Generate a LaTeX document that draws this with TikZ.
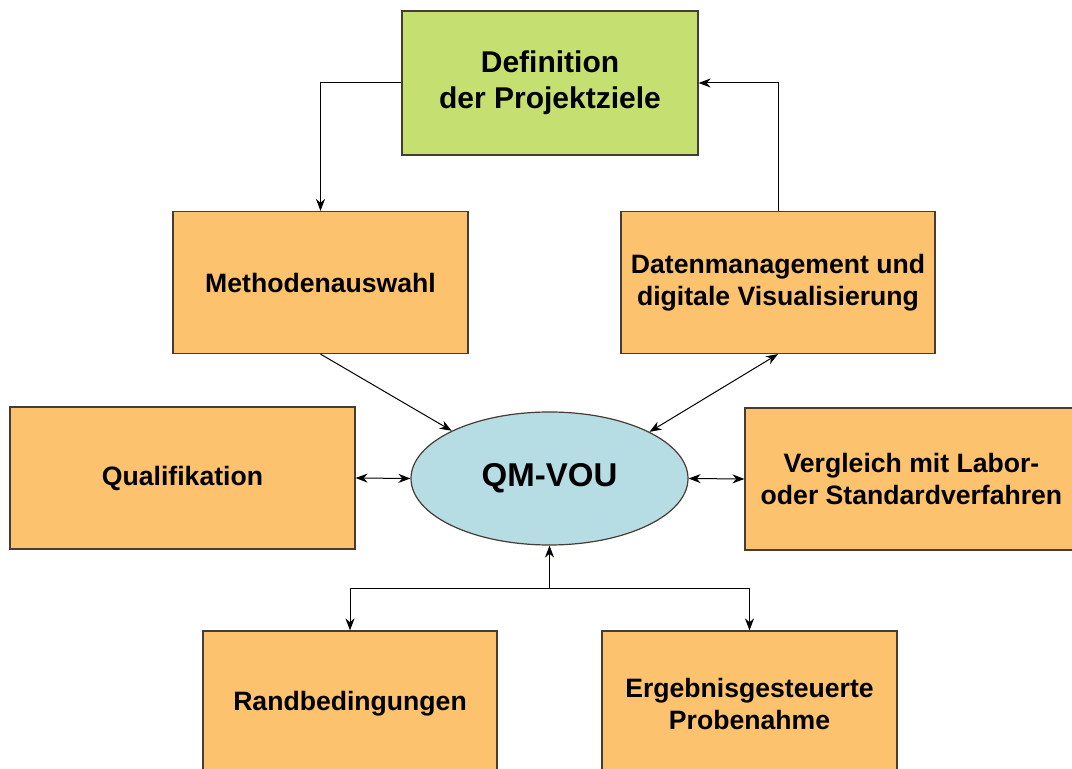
\documentclass[tikz,border=0pt]{standalone}
\usepackage{xcolor}
\usepackage{fontspec}
\setmainfont{Liberation Sans}
\usetikzlibrary{shapes, arrows.meta, positioning}

\definecolor{boxorange}{RGB}{252,194,110}
\definecolor{boxgreen}{RGB}{197,224,112}
\definecolor{ellblue}{RGB}{183,221,228}
\definecolor{edgegray}{RGB}{70,60,50}

\begin{document}
\begin{tikzpicture}[x=0.5pt, y=-0.5pt]
\tikzstyle{goal} = [rectangle, minimum width=148pt, minimum height=72pt, text centered, align=center, draw=edgegray, line width=0.6pt, fill=boxgreen, font=\bfseries\fontsize{15}{18}\selectfont]
\tikzstyle{process} = [rectangle, minimum height=71pt, text centered, align=center, draw=edgegray, line width=0.6pt, fill=boxorange, font=\bfseries\fontsize{13.3}{15.8}\selectfont]
\tikzstyle{core} = [ellipse, minimum width=138.5pt, minimum height=66.5pt, text centered, draw=edgegray, line width=0.6pt, fill=ellblue, font=\bfseries\fontsize{16.5}{20}\selectfont]
\tikzstyle{arrow} = [line width=0.5pt, ->, >={Stealth[length=6pt, width=4.5pt]}]
\tikzstyle{twoway} = [line width=0.5pt, <->, >={Stealth[length=6pt, width=4.5pt]}]

\useasboundingbox (0,0) rectangle (1072,769);

\node (defn) [goal] at (550,83) {Definition\\der Projektziele};
\node (method) [process, minimum width=147.5pt] at (320.5,282.5) {Methodenauswahl};
\node (daten) [process, minimum width=157pt] at (778,282.5) {Datenmanagement und\\digitale Visualisierung};
\node (qm) [core] at (549.5,478.5) {QM-VOU};
\node (quali) [process, minimum width=172.5pt] at (182.5,478) {Qualifikation};
\node (vergl) [process, minimum width=166.5pt] at (911.5,479) {Vergleich mit Labor-\\oder Standardverfahren};
\node (rand) [process, minimum width=147pt, minimum height=73pt] at (350,704) {Randbedingungen};
\node (ergeb) [process, minimum width=147.5pt, minimum height=73pt] at (749.5,704) {Ergebnisgesteuerte\\Probenahme};
\coordinate (split) at (549.5,589);

\draw [arrow] (defn.west) -| (method.north);
\draw [arrow] (daten.north) |- (defn.east);
\draw [arrow] (method.south) -- (qm.154);
\draw [twoway] (daten.south) -- (qm.25);
\draw [twoway] (quali.east) -- (qm.west);
\draw [twoway] (qm.east) -- (vergl.west);
\draw [arrow] (split) -- (qm.south);
\draw [arrow] (split) -| (rand.north);
\draw [arrow] (split) -| (ergeb.north);

\end{tikzpicture}
\end{document}
